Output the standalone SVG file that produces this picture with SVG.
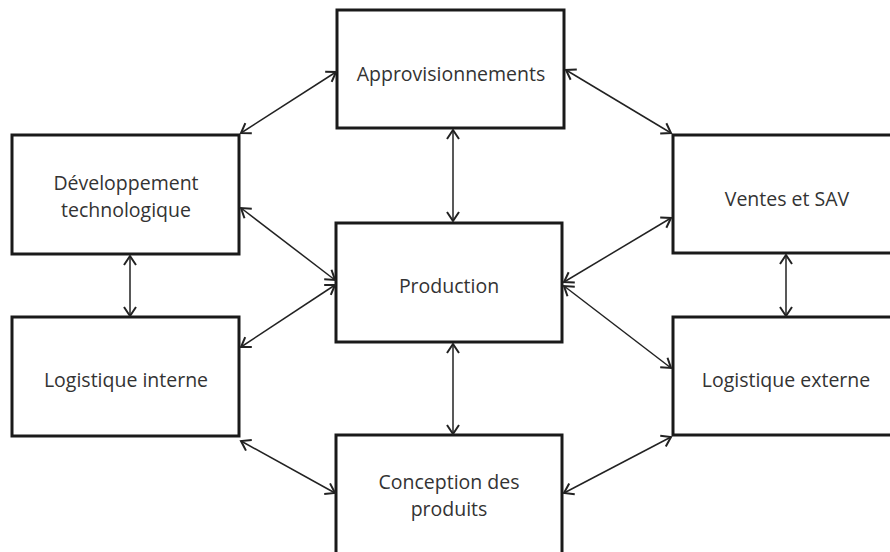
<svg xmlns="http://www.w3.org/2000/svg" width="890" height="552" viewBox="0 0 890 552">
<style>
.box{fill:#fff;stroke:#1a1a1a;stroke-width:3}
.lbl{font-family:"Open Sans","Liberation Sans",sans-serif;font-size:19.5px;fill:#333;text-anchor:middle}
.con{stroke:#222;stroke-width:1.5;fill:none;marker-start:url(#ah);marker-end:url(#ah)}
</style>
<defs>
<marker id="ah" viewBox="-12 -8 14 16" refX="0" refY="0" markerWidth="14" markerHeight="16" markerUnits="userSpaceOnUse" orient="auto-start-reverse">
<path d="M-9,-6 L0,0 L-9,6" fill="none" stroke="#222" stroke-width="2"/>
</marker>
</defs>
<rect width="890" height="552" fill="#fff"/>
<g id="approvisionnements"><rect class="box" x="337" y="10" width="227" height="118"/><text class="lbl" x="451" y="81">Approvisionnements</text></g>
<g id="developpement"><rect class="box" x="12" y="135" width="227" height="119"/><text class="lbl" x="126" y="190">Développement</text><text class="lbl" x="126" y="217">technologique</text></g>
<g id="ventes"><rect class="box" x="673" y="135" width="220" height="118"/><text class="lbl" x="787" y="206">Ventes et SAV</text></g>
<g id="production"><rect class="box" x="336" y="223" width="226" height="119"/><text class="lbl" x="449" y="293">Production</text></g>
<g id="log-interne"><rect class="box" x="12" y="317" width="227" height="119"/><text class="lbl" x="126" y="387">Logistique interne</text></g>
<g id="log-externe"><rect class="box" x="673" y="317" width="220" height="118"/><text class="lbl" x="786" y="387">Logistique externe</text></g>
<g id="conception"><rect class="box" x="336" y="435" width="226" height="125"/><text class="lbl" x="449" y="489">Conception des</text><text class="lbl" x="449" y="516">produits</text></g>
<g id="connectors">
<line class="con" x1="336" y1="72" x2="241" y2="133"/>
<line class="con" x1="566" y1="70" x2="671" y2="133"/>
<line class="con" x1="453" y1="130" x2="453" y2="221"/>
<line class="con" x1="241" y1="208" x2="335" y2="280"/>
<line class="con" x1="335" y1="285" x2="241" y2="347"/>
<line class="con" x1="130" y1="256" x2="130" y2="316"/>
<line class="con" x1="671" y1="218" x2="564" y2="282"/>
<line class="con" x1="564" y1="286" x2="671" y2="368"/>
<line class="con" x1="786" y1="255" x2="786" y2="316"/>
<line class="con" x1="241" y1="441" x2="335" y2="493"/>
<line class="con" x1="453" y1="344" x2="453" y2="434"/>
<line class="con" x1="671" y1="437" x2="564" y2="493"/>
</g>
</svg>
